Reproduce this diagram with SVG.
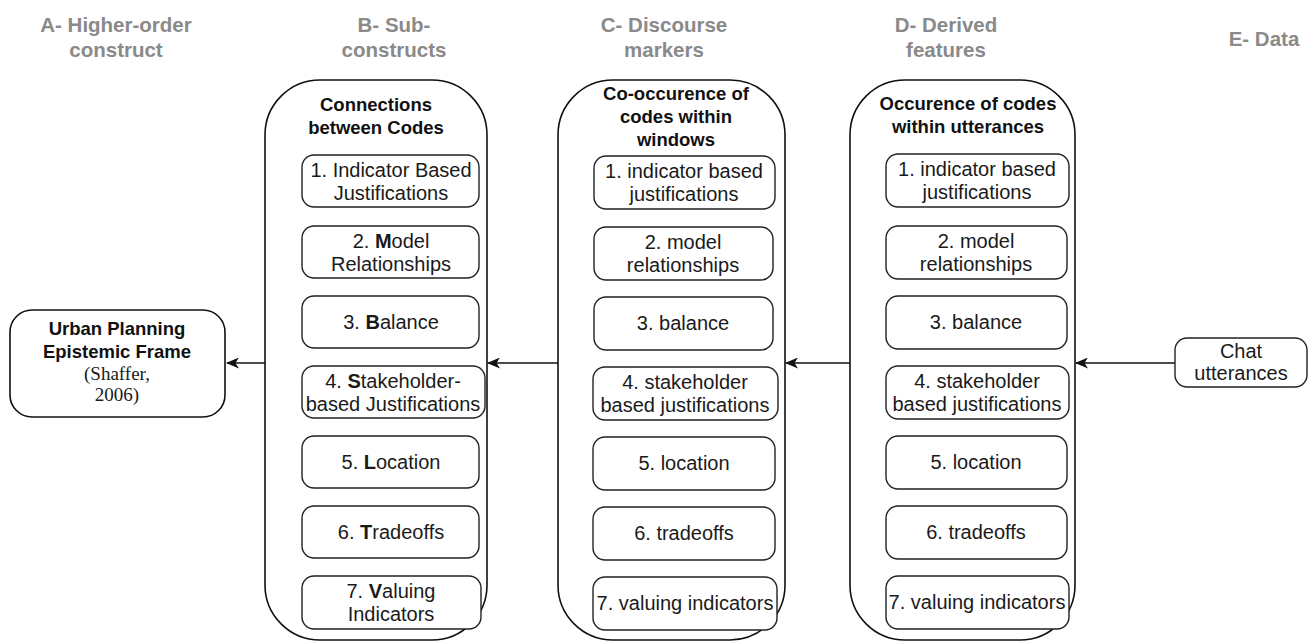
<svg xmlns="http://www.w3.org/2000/svg" width="1310" height="644" viewBox="0 0 1310 644">
<style>
.hdr{font-family:"Liberation Sans",Arial,sans-serif;font-size:20.5px;font-weight:bold;fill:#8a8a8a;text-anchor:middle}
.ttl{font-family:"Liberation Sans",Arial,sans-serif;font-size:18.5px;font-weight:bold;fill:#111;text-anchor:middle}
.txt{font-family:"Liberation Sans",Arial,sans-serif;font-size:20px;fill:#1a1a1a;text-anchor:middle}
.ser{font-family:"Liberation Serif","Times New Roman",serif;font-size:19px;fill:#1a1a1a;text-anchor:middle}
.cont{fill:#fff;stroke:#111;stroke-width:1.6}
.box{fill:#fff;stroke:#222;stroke-width:1.4}
.edge{stroke:#111;stroke-width:1.6;fill:none}
.b{font-weight:bold}
</style>
<defs>
<marker id="arr" viewBox="0 0 13 11" refX="12" refY="5.5" markerWidth="13" markerHeight="11" markerUnits="userSpaceOnUse" orient="auto">
<path d="M0,0 L13,5.5 L0,11 L3.5,5.5 Z" fill="#111"/>
</marker>
</defs>
<rect width="1310" height="644" fill="#fff"/>

<g id="headers">
<text class="hdr" x="116" y="32">A- Higher-order</text>
<text class="hdr" x="116" y="57">construct</text>
<text class="hdr" x="394" y="32">B- Sub-</text>
<text class="hdr" x="394" y="57">constructs</text>
<text class="hdr" x="664" y="32">C- Discourse</text>
<text class="hdr" x="664" y="57">markers</text>
<text class="hdr" x="946" y="32">D- Derived</text>
<text class="hdr" x="946" y="57">features</text>
<text class="hdr" x="1264" y="46">E- Data</text>
</g>

<g id="connectors">
<line class="edge" x1="265" y1="363" x2="227" y2="363" marker-end="url(#arr)"/>
<line class="edge" x1="558" y1="363" x2="488" y2="363" marker-end="url(#arr)"/>
<line class="edge" x1="850" y1="363" x2="786" y2="363" marker-end="url(#arr)"/>
<line class="edge" x1="1175" y1="363" x2="1076" y2="363" marker-end="url(#arr)"/>
</g>

<g id="urban">
<rect class="cont" x="10" y="310" width="215" height="107" rx="22"/>
<text class="ttl" x="117" y="335">Urban Planning</text>
<text class="ttl" x="117" y="358">Epistemic Frame</text>
<text class="ser" x="117" y="380">(Shaffer,</text>
<text class="ser" x="117" y="401">2006)</text>
</g>

<g id="colB">
<rect class="cont" x="265" y="80" width="222" height="560" rx="55"/>
<text class="ttl" x="376" y="111">Connections</text>
<text class="ttl" x="376" y="134">between Codes</text>
<g id="B1"><rect class="box" x="302" y="155" width="177" height="52" rx="12"/>
<text class="txt" x="391" y="177">1. Indicator Based</text><text class="txt" x="391" y="200">Justifications</text></g>
<g id="B2"><rect class="box" x="302" y="226" width="177" height="52" rx="12"/>
<text class="txt" x="391" y="248">2. <tspan class="b">M</tspan>odel</text><text class="txt" x="391" y="271">Relationships</text></g>
<g id="B3"><rect class="box" x="302" y="296" width="177" height="52" rx="12"/>
<text class="txt" x="391" y="329">3. <tspan class="b">B</tspan>alance</text></g>
<g id="B4"><rect class="box" x="302" y="366" width="183" height="52" rx="12"/>
<text class="txt" x="393" y="388">4. <tspan class="b">S</tspan>takeholder-</text><text class="txt" x="393" y="411">based Justifications</text></g>
<g id="B5"><rect class="box" x="302" y="436" width="177" height="52" rx="12"/>
<text class="txt" x="391" y="469">5. <tspan class="b">L</tspan>ocation</text></g>
<g id="B6"><rect class="box" x="302" y="506" width="177" height="52" rx="12"/>
<text class="txt" x="391" y="539">6. <tspan class="b">T</tspan>radeoffs</text></g>
<g id="B7"><rect class="box" x="302" y="576" width="179" height="53" rx="12"/>
<text class="txt" x="391" y="598">7. <tspan class="b">V</tspan>aluing</text><text class="txt" x="391" y="621">Indicators</text></g>
</g>

<g id="colC">
<rect class="cont" x="558" y="80" width="227" height="560" rx="55"/>
<text class="ttl" x="676" y="100">Co-occurence of</text>
<text class="ttl" x="676" y="123">codes within</text>
<text class="ttl" x="676" y="146">windows</text>
<g id="C1"><rect class="box" x="594" y="156" width="181" height="53" rx="12"/>
<text class="txt" x="684" y="178">1. indicator based</text><text class="txt" x="684" y="201">justifications</text></g>
<g id="C2"><rect class="box" x="594" y="227" width="179" height="53" rx="12"/>
<text class="txt" x="683" y="249">2. model</text><text class="txt" x="683" y="272">relationships</text></g>
<g id="C3"><rect class="box" x="594" y="297" width="179" height="53" rx="12"/>
<text class="txt" x="683" y="330">3. balance</text></g>
<g id="C4"><rect class="box" x="593" y="367" width="185" height="53" rx="12"/>
<text class="txt" x="685" y="389">4. stakeholder</text><text class="txt" x="685" y="412">based justifications</text></g>
<g id="C5"><rect class="box" x="593" y="437" width="182" height="53" rx="12"/>
<text class="txt" x="684" y="470">5. location</text></g>
<g id="C6"><rect class="box" x="593" y="507" width="182" height="53" rx="12"/>
<text class="txt" x="684" y="540">6. tradeoffs</text></g>
<g id="C7"><rect class="box" x="593" y="577" width="184" height="53" rx="12"/>
<text class="txt" x="685" y="610">7. valuing indicators</text></g>
</g>

<g id="colD">
<rect class="cont" x="850" y="80" width="225" height="560" rx="55"/>
<text class="ttl" x="968" y="110">Occurence of codes</text>
<text class="ttl" x="968" y="133">within utterances</text>
<g id="D1"><rect class="box" x="886" y="154" width="183" height="53" rx="12"/>
<text class="txt" x="977" y="176">1. indicator based</text><text class="txt" x="977" y="199">justifications</text></g>
<g id="D2"><rect class="box" x="886" y="226" width="181" height="53" rx="12"/>
<text class="txt" x="976" y="248">2. model</text><text class="txt" x="976" y="271">relationships</text></g>
<g id="D3"><rect class="box" x="886" y="296" width="181" height="53" rx="12"/>
<text class="txt" x="976" y="329">3. balance</text></g>
<g id="D4"><rect class="box" x="886" y="366" width="183" height="53" rx="12"/>
<text class="txt" x="977" y="388">4. stakeholder</text><text class="txt" x="977" y="411">based justifications</text></g>
<g id="D5"><rect class="box" x="886" y="436" width="181" height="53" rx="12"/>
<text class="txt" x="976" y="469">5. location</text></g>
<g id="D6"><rect class="box" x="886" y="506" width="181" height="53" rx="12"/>
<text class="txt" x="976" y="539">6. tradeoffs</text></g>
<g id="D7"><rect class="box" x="886" y="576" width="183" height="53" rx="12"/>
<text class="txt" x="977" y="609">7. valuing indicators</text></g>
</g>

<g id="chat">
<rect class="box" x="1175" y="338" width="132" height="49" rx="12"/>
<text class="txt" x="1241" y="358">Chat</text>
<text class="txt" x="1241" y="380">utterances</text>
</g>
</svg>
